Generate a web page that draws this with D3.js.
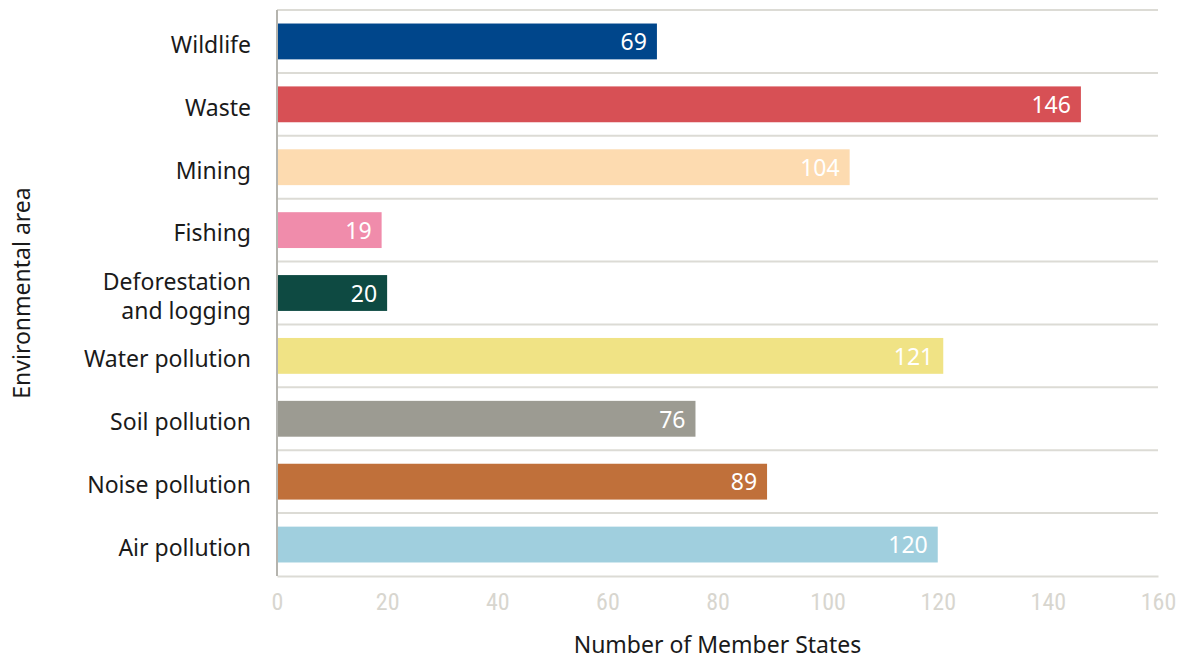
<!DOCTYPE html>
<html><head><meta charset="utf-8">
<script src="https://cdn.jsdelivr.net/npm/d3@7"></script>
<style>body{margin:0;background:#fff;}svg{display:block;}</style>
</head><body>
<svg id="chart" width="1178" height="661"></svg>
<script>
const categories = ["Wildlife","Waste","Mining","Fishing","Deforestation and logging","Water pollution","Soil pollution","Noise pollution","Air pollution"];
const labelLines = [["Wildlife"],["Waste"],["Mining"],["Fishing"],["Deforestation","and logging"],["Water pollution"],["Soil pollution"],["Noise pollution"],["Air pollution"]];
const values = [69,146,104,19,20,121,76,89,120];
const colors = ["#00468b","#d75055","#fddbb0","#f08cab","#0e4a42","#f0e385","#9c9b92","#c0703a","#a0cfde"];
const xTicks = [0,20,40,60,80,100,120,140,160];

const svg = d3.select("#chart");
const m = {left:277, right:1158, top:10, bottom:576};
const x = d3.scaleLinear().domain([0,160]).range([m.left,m.right]);
const y = d3.scaleBand().domain(categories).range([m.top,m.bottom]).paddingInner(0.43).paddingOuter(0.215);
const step = y.step();
const font = "'Noto Sans',sans-serif";

// gridlines at band boundaries
const bounds = d3.range(categories.length).map(i => m.top + i*step);
svg.append("g").selectAll("line").data(bounds).join("line")
  .attr("x1", m.left).attr("x2", m.right)
  .attr("y1", d=>d).attr("y2", d=>d)
  .attr("stroke","#dcdbd5").attr("stroke-width",2);

// bottom axis
const xAxis = svg.append("g").attr("transform",`translate(0,${m.bottom})`)
  .call(d3.axisBottom(x).tickValues(xTicks).tickSize(0).tickPadding(17));
xAxis.select(".domain").attr("stroke","#dcdbd5").attr("stroke-width",2);
xAxis.selectAll("text").attr("fill","#d8d6cf").style("font-family","'Liberation Sans Narrow','Roboto Condensed','Liberation Sans',sans-serif").style("font-size","24px");

// bars
svg.append("g").selectAll("rect").data(categories).join("rect")
  .attr("x", x(0)).attr("y", d=>y(d))
  .attr("width", (d,i)=>x(values[i])-x(0))
  .attr("height", y.bandwidth())
  .attr("fill", (d,i)=>colors[i]);

// left axis line
svg.append("line").attr("x1",m.left).attr("x2",m.left).attr("y1",m.top).attr("y2",m.bottom)
  .attr("stroke","#b5b4ae").attr("stroke-width",2);

// value labels
svg.append("g").selectAll("text").data(categories).join("text")
  .attr("x",(d,i)=>x(values[i])-10)
  .attr("y", d=>y(d)+y.bandwidth()/2)
  .attr("dy","0.38em")
  .attr("text-anchor","end")
  .attr("fill","#fff")
  .style("font-family",font).style("font-size","23px")
  .text((d,i)=>values[i]);

// category labels
const cl = svg.append("g").selectAll("text").data(categories).join("text")
  .attr("text-anchor","end")
  .attr("fill","#1a1a1a")
  .style("font-family",font).style("font-size","23px");
cl.each(function(d,i){
  const t = d3.select(this);
  const lines = labelLines[i];
  const cy = y(d)+y.bandwidth()/2 + 3;
  const lh = 29;
  lines.forEach((ln,j)=>{
    t.append("tspan").attr("x", m.left-26)
      .attr("y", cy + (j-(lines.length-1)/2)*lh).attr("dy","0.36em").text(ln);
  });
});

// axis titles
svg.append("text").attr("x",(m.left+m.right)/2).attr("y",645).attr("dy","0.36em")
  .attr("text-anchor","middle").attr("fill","#1a1a1a")
  .style("font-family",font).style("font-size","23px")
  .text("Number of Member States");
svg.append("text").attr("transform",`translate(22,${(m.top+m.bottom)/2}) rotate(-90)`)
  .attr("dy","0.36em").attr("text-anchor","middle").attr("fill","#1a1a1a")
  .style("font-family",font).style("font-size","23px")
  .text("Environmental area");
</script>
</body></html>
